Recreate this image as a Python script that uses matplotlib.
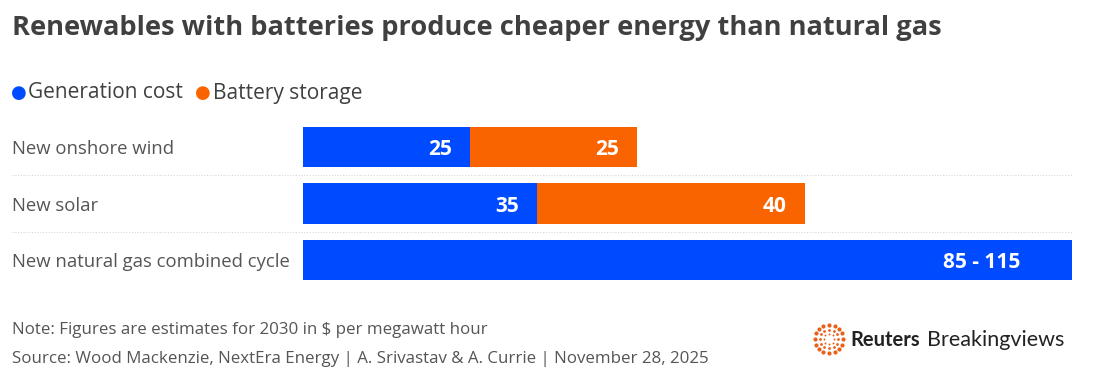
import matplotlib.pyplot as plt
import numpy as np

categories = ["New onshore wind", "New solar", "New natural gas combined cycle"]
generation = [25, 35, 115]
battery = [25, 40, 0]
value_labels_gen = ["25", "35", "85 - 115"]
value_labels_bat = ["25", "40", ""]

blue = "#004BFF"
orange = "#F96400"
grey = "#555555"

plt.rcParams['font.family'] = ['Open Sans', 'DejaVu Sans']

W, H = 1093, 383
fig = plt.figure(figsize=(W / 100, H / 100), dpi=100)

# axes placed in pixel terms: bars span 303..1072 px, rows centred 147/203/260
left, right = 303, 1072
top, bottom = 118.75, 288.25
ax = fig.add_axes([left / W, 1 - bottom / H, (right - left) / W, (bottom - top) / H])

y = np.arange(len(categories))
ax.barh(y, generation, height=0.71, color=blue)
ax.barh(y, battery, left=generation, height=0.71, color=orange)
ax.set_xlim(0, 115)
ax.set_ylim(2.5, -0.5)
ax.axis("off")

# value labels, right-aligned inside each segment
dy = -2.0  # nudge text down a touch (points)
for i in range(len(categories)):
    pad = -52 if battery[i] == 0 else -18
    ax.annotate(value_labels_gen[i], (generation[i], i), xytext=(pad * 0.72, dy),
                textcoords="offset points", ha="right", va="center",
                color="white", fontsize=15, fontweight="bold")
    if battery[i]:
        ax.annotate(value_labels_bat[i], (generation[i] + battery[i], i),
                    xytext=(-18 * 0.72, dy), textcoords="offset points",
                    ha="right", va="center", color="white",
                    fontsize=15, fontweight="bold")
    ax.annotate(categories[i], (-291 / 769 * 115, i), xytext=(0, -1.5),
                textcoords="offset points", ha="left", va="center",
                fontsize=13.3, color=grey, annotation_clip=False)

# dotted row separators
for yy in [0.5, 1.5]:
    ax.axhline(yy, xmin=-291 / 769, xmax=1, color="#d8d8d8", lw=0.8,
               ls=(0, (1, 1.5)), clip_on=False)

# title
fig.text(12 / W, 1 - 28 / H, "Renewables with batteries produce cheaper energy than natural gas",
         fontsize=19.6, fontweight="bold", color="#404040", va="center", ha="left")

# legend
fig.text(11 / W, 1 - 93 / H, "\u25CF", color=blue, fontsize=13, va="center", ha="left",
         family=['DejaVu Sans'])
fig.text(28 / W, 1 - 93 / H, "Generation cost", color="#404040", fontsize=15, va="center")
fig.text(195 / W, 1 - 93 / H, "\u25CF", color=orange, fontsize=13, va="center", ha="left",
         family=['DejaVu Sans'])
fig.text(213 / W, 1 - 93 / H, "Battery storage", color="#404040", fontsize=15, va="center")

# footer
fig.text(12 / W, 1 - 330 / H, "Note: Figures are estimates for 2030 in $ per megawatt hour",
         color=grey, fontsize=12.2, va="center")
fig.text(12 / W, 1 - 359 / H,
         "Source: Wood Mackenzie, NextEra Energy | A. Srivastav & A. Currie | November 28, 2025",
         color=grey, fontsize=12.2, va="center")

# logo
lax = fig.add_axes([812 / W, 1 - 356 / H, 34 / W, 34 / H])
lax.set_xlim(-1, 1)
lax.set_ylim(-1, 1)
lax.set_aspect("equal")
lax.axis("off")
for r, n, s in [(0.85, 16, 9), (0.55, 12, 4), (0.3, 8, 2)]:
    ang = np.linspace(0, 2 * np.pi, n, endpoint=False)
    lax.scatter(r * np.cos(ang), r * np.sin(ang), s=s, color="#E8601C", lw=0)
fig.text(850 / W, 1 - 340 / H, "Reuters", fontweight="bold", fontsize=14.5, color="#222222",
         va="center", family=['Lato'])
fig.text(927 / W, 1 - 340 / H, "Breakingviews", fontsize=15.5, color="#222222", va="center",
         family=['Lato'])

fig.savefig("out.png", dpi=100, facecolor="white")
